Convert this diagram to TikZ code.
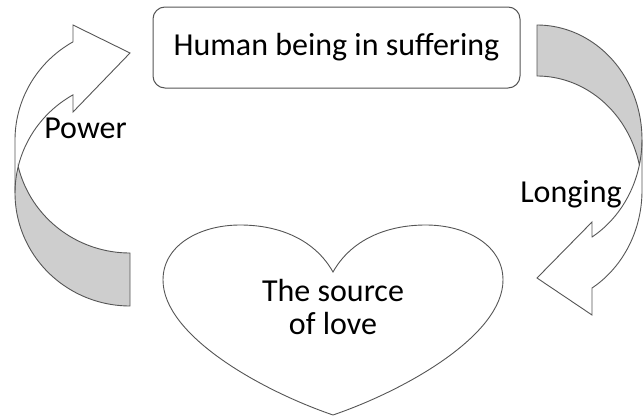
\documentclass[tikz,border=0pt]{standalone}
\usepackage{fontspec}
\setmainfont{Carlito}
\definecolor{bandgray}{RGB}{206,206,206}
\definecolor{edgegray}{RGB}{85,85,85}
\tikzset{
  lbl/.style={font=\fontsize{32}{33}\selectfont, inner sep=0pt},
  boxnode/.style={draw=edgegray, line width=1pt, rounded corners=12pt, minimum width=367pt, minimum height=81pt, inner sep=0pt, font=\fontsize{32}{38}\selectfont},
  shapeline/.style={draw=edgegray, line width=0.9pt, line join=miter},
  backband/.style={shapeline, fill=bandgray},
}
\begin{document}
\begin{tikzpicture}[x=1pt,y=-1pt]
\useasboundingbox (0,0) rectangle (643,418);
% top box
\node[boxnode] (human) at (336.5,47.5) {Human being in suffering};
% heart
\draw[shapeline] (333,272) .. controls (315,240) and (280,225) .. (240,225)
  .. controls (200,225) and (163,245) .. (163,280)
  .. controls (163,335) and (260,390) .. (333,415)
  .. controls (406,390) and (503,335) .. (503,280)
  .. controls (503,245) and (466,225) .. (426,225)
  .. controls (386,225) and (351,240) .. (333,272) -- cycle;
\node[lbl, align=center] (love) at (333,307) {The source\\of love};
% left curved arrow (Power)
\filldraw[backband] (130,253)
  -- plot[domain=90:166.44, samples=60] ({130+115*cos(\x)},{140+113*sin(\x)})
  -- plot[domain=193.56:90, samples=60] ({130+115*cos(\x)},{193+113*sin(\x)}) -- cycle;
\draw[shapeline] (15,193)
  -- plot[domain=180:240.28, samples=50] ({130+115*cos(\x)},{140+113*sin(\x)})
  -- (73,25) -- (130,53) -- (73,112) -- (73,95)
  -- plot[domain=240.28:193.56, samples=40] ({130+115*cos(\x)},{193+113*sin(\x)});
% right curved arrow (Longing)
\filldraw[backband] (537,76)
  -- plot[domain=-90:-12.87, samples=60] ({537+105*cos(\x)},{190.5+114.5*sin(\x)})
  -- plot[domain=12.87:-90, samples=60] ({537+105*cos(\x)},{139.5+114.5*sin(\x)}) -- cycle;
\draw[shapeline] (642,139.5)
  -- plot[domain=0:58.4, samples=50] ({537+105*cos(\x)},{190.5+114.5*sin(\x)})
  -- (592,315) -- (537,278) -- (592,222) -- (592,237)
  -- plot[domain=58.4:12.87, samples=40] ({537+105*cos(\x)},{139.5+114.5*sin(\x)});
% labels
\node[lbl, anchor=base] (power) at (85.5,138) {Power};
\node[lbl, anchor=base] (longing) at (571,202) {Longing};
\end{tikzpicture}
\end{document}
